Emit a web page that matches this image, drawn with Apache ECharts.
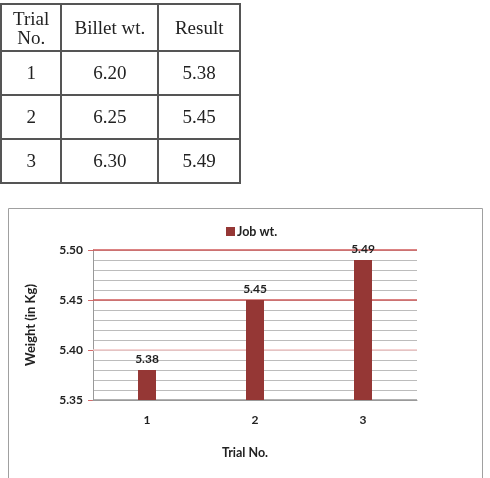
<!DOCTYPE html>
<html>
<head>
<meta charset="utf-8">
<script src="https://cdn.jsdelivr.net/npm/echarts@6/dist/echarts.min.js"></script>
<style>
    body { margin: 0; background: #fff; }
    #chart { position: absolute; left: 0; top: 0; width: 490px; height: 478px; }
    table {
        position: absolute; left: 0; top: 3px; z-index: 2;
        border-collapse: collapse; width: 241px;
        font-family: "Liberation Serif", serif; font-size: 19px; color: #222;
    }
    td { border: 2px solid #555; text-align: center; padding: 0; }
    tr.head td { height: 45px; line-height: 19px; }
    tr.row td { height: 42px; }
</style>
</head>
<body>
<table id="tbl"></table>
<div id="chart"></div>
<script>
const trials = ['1', '2', '3'];
const billetWt = ['6.20', '6.25', '6.30'];
const jobWt = [5.38, 5.45, 5.49];
const headers = ['Trial<br>No.', 'Billet wt.', 'Result'];
const colWidths = [60, 99, 82];

// table above the chart
let html = '<tr class="head">' + headers.map(function (h, i) {
    return '<td style="width:' + colWidths[i] + 'px">' + h + '</td>';
}).join('') + '</tr>';
trials.forEach(function (t, i) {
    html += '<tr class="row"><td>' + t + '</td><td>' + billetWt[i] + '</td><td>' + jobWt[i].toFixed(2) + '</td></tr>';
});
document.getElementById('tbl').innerHTML = html;

let chart = echarts.init(document.getElementById('chart'));
const labelFont = { fontFamily: 'Lato', fontWeight: 'bold', fontSize: 12, color: '#222' };

chart.setOption({
    animation: false,
    backgroundColor: 'transparent',
    graphic: [{
        type: 'rect',
        shape: { x: 8.5, y: 208.5, width: 474, height: 280 },
        style: { fill: 'none', stroke: '#a0a0a0', lineWidth: 1 },
        silent: true
    }],
    legend: {
        left: 221,
        top: 220,
        itemWidth: 9,
        itemHeight: 9,
        icon: 'rect',
        textStyle: { fontFamily: 'Lato', fontWeight: 'bold', fontSize: 12.5, color: '#222', padding: [0, 0, 0, -3] },
        data: ['Job wt.']
    },
    grid: {
        left: 93,
        right: 73,
        top: 250,
        bottom: 78
    },
    xAxis: {
        type: 'category',
        data: trials,
        name: 'Trial No.',
        nameLocation: 'middle',
        nameGap: 46,
        nameTextStyle: Object.assign({}, labelFont, { fontSize: 12.5, padding: [0, 20, 0, 0] }),
        axisLine: { lineStyle: { color: '#999' } },
        axisTick: { length: 5, lineStyle: { color: '#999' } },
        axisLabel: Object.assign({ margin: 14 }, labelFont),
        z: 5
    },
    yAxis: [{
        // minor gridlines every 0.01
        type: 'value',
        min: 5.35,
        max: 5.50,
        interval: 0.01,
        position: 'left',
        axisLine: { show: true, lineStyle: { color: '#999' } },
        axisTick: { show: false },
        axisLabel: { show: false },
        splitLine: { lineStyle: { color: '#bcbcbc', width: 1 } },
        z: 1
    }, {
        type: 'value',
        min: 5.35,
        max: 5.50,
        interval: 0.05,
        position: 'left',
        name: 'Weight (in Kg)',
        nameLocation: 'middle',
        nameGap: 56,
        nameTextStyle: Object.assign({}, labelFont, { fontSize: 13 }),
        axisLine: { show: false },
        axisTick: { show: true, length: 5, lineStyle: { color: '#d46a6a' } },
        axisLabel: Object.assign({ margin: 10, formatter: function (v) { return v.toFixed(2); } }, labelFont),
        splitLine: {
            show: true,
            lineStyle: { color: ['#999', '#f2c6c6', '#d05a5a', '#d05a5a'], width: 1.5 }
        },
        z: 3
    }],
    series: [{
        name: 'Job wt.',
        type: 'bar',
        data: jobWt,
        yAxisIndex: 1,
        barWidth: 18,
        itemStyle: { color: '#953735' },
        z: 4,
        label: Object.assign({
            show: true,
            position: 'top',
            distance: 5,
            formatter: function (p) { return p.value.toFixed(2); }
        }, labelFont)
    }]
});
</script>
</body>
</html>
